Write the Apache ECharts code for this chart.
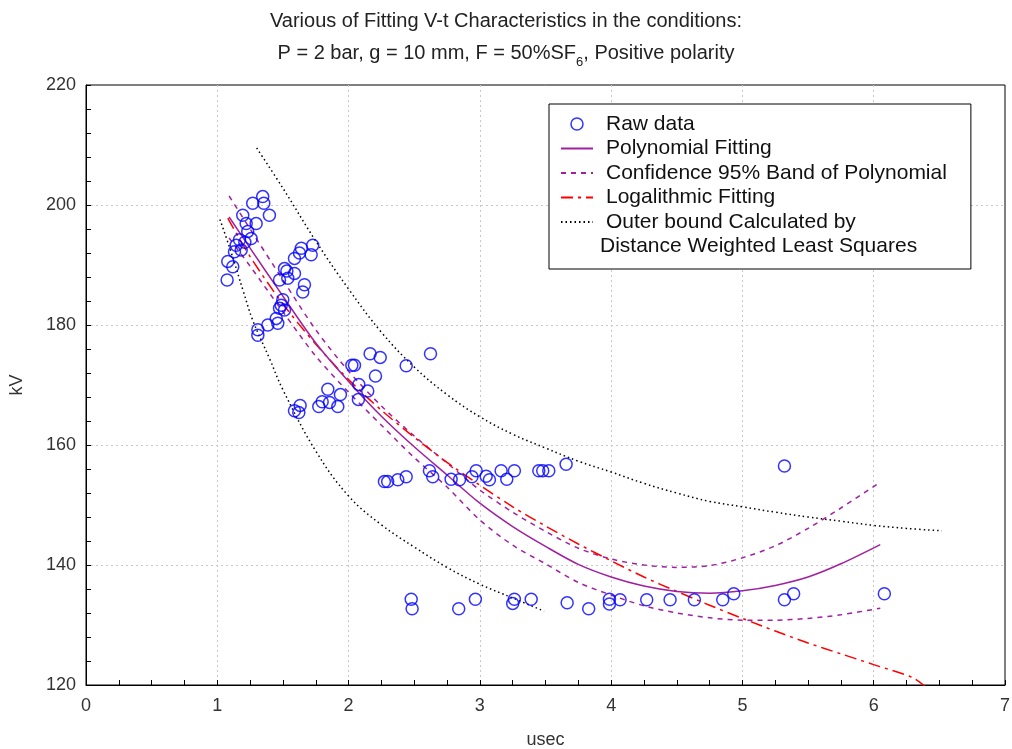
<!DOCTYPE html>
<html>
<head>
<meta charset="utf-8">
<script src="https://cdn.jsdelivr.net/npm/echarts@6/dist/echarts.min.js"></script>
<style>
html,body{margin:0;padding:0;background:#fff;}
#chart{width:1012px;height:749px;}
</style>
</head>
<body>
<div id="chart"></div>
<script>
// ---------- data ----------
var rawData = [
  [1.075,187.5],[1.08,190.6],[1.118,189.7],[1.131,192.2],[1.144,193.3],[1.169,194.2],
  [1.182,192.5],[1.194,198.3],[1.22,196.9],[1.232,195.6],[1.258,194.4],[1.27,200.3],
  [1.296,196.9],[1.21,193.8],[1.346,201.4],[1.354,200.3],[1.397,198.3],[1.309,179.2],
  [1.309,178.3],[1.385,180.0],[1.449,181.1],[1.461,180.3],[1.474,182.8],[1.487,183.3],
  [1.499,184.2],[1.512,182.5],[1.474,187.5],[1.537,187.8],[1.512,189.4],[1.588,188.6],
  [1.53,189.0],[1.588,191.1],[1.626,192.0],[1.64,192.8],[1.715,191.7],[1.727,193.3],
  [1.664,186.7],[1.651,185.5],
  [1.588,165.7],[1.621,165.4],[1.631,166.6],[1.773,166.4],[1.799,167.2],[1.842,169.3],
  [1.855,167.1],[1.918,166.4],[1.938,168.4],[2.025,173.3],[2.045,173.3],[2.075,167.6],
  [2.078,170.1],[2.146,169.0],[2.164,175.2],[2.205,171.5],[2.241,174.6],[2.439,173.2],
  [2.624,175.2],
  [2.273,153.9],[2.298,153.9],[2.375,154.2],[2.439,154.7],[2.616,155.7],[2.641,154.7],
  [2.781,154.3],[2.845,154.2],[2.94,154.7],[2.972,155.7],[3.048,154.8],[3.073,154.2],
  [3.162,155.7],[3.205,154.3],[3.263,155.7],[3.449,155.7],[3.479,155.7],[3.525,155.7],
  [3.657,156.8],
  [2.477,134.3],[2.484,132.7],[2.839,132.7],[2.966,134.3],[3.25,133.6],[3.263,134.3],
  [3.391,134.3],[3.665,133.7],[3.829,132.7],[3.987,134.3],[3.987,133.5],[4.068,134.2],
  [4.271,134.2],[4.449,134.2],[4.634,134.2],[4.85,134.2],[4.934,135.2],[5.32,134.2],
  [5.39,135.2],[6.081,135.2],[5.32,156.5]
];

var fitX      = [1.09,1.25,1.5,1.75,2.0,2.25,2.5,2.75,3.0,3.25,3.5,3.75,4.0,4.25,4.5,4.75,5.0,5.25,5.5,5.75,6.05];
var polyFit   = [198.0,192.8,184.8,177.0,170.6,164.8,159.7,155.0,150.3,146.4,143.1,140.1,138.0,136.5,135.6,135.3,135.7,136.6,138.0,140.2,143.4];
var confUpper = [201.5,196.0,187.5,179.2,172.3,166.5,161.5,157.0,152.5,148.8,145.6,142.8,141.0,140.0,139.6,139.9,141.2,143.2,146.1,149.5,153.8];
var confLower = [194.5,189.8,182.2,174.8,168.8,163.3,157.9,153.0,147.5,143.3,140.2,137.1,135.0,133.2,132.0,131.2,130.8,130.8,131.1,131.7,132.8];

var logX   = [1.08,1.25,1.5,1.75,2.0,2.25,2.5,2.75,3.0,3.25,3.5,3.75,4.0,4.25,4.5,4.75,5.0,5.25,5.5,5.75,6.0,6.3,6.4];
var logFit = [197.8,191.4,183.5,176.8,170.9,165.8,161.3,157.1,153.3,149.7,146.5,143.5,140.7,138.0,135.6,133.3,131.1,129.0,127.0,125.2,123.4,121.2,119.6];

var outerUpX = [1.3,1.5,1.75,2.0,2.25,2.5,2.75,3.0,3.25,3.5,3.75,4.0,4.25,4.5,4.75,5.0,5.25,5.5,5.75,6.0,6.25,6.52];
var outerUp  = [209.5,202.8,194.0,186.0,178.8,173.0,168.4,164.7,161.8,159.5,157.3,155.5,153.6,152.0,150.6,149.7,148.8,148.0,147.3,146.6,146.1,145.7];
var outerLoX = [1.02,1.1,1.2,1.27,1.4,1.5,1.75,2.0,2.25,2.5,2.75,3.0,3.25,3.49];
var outerLo  = [197.6,192.5,185.5,180.8,174.3,169.2,159.0,151.5,146.7,143.0,139.6,136.8,134.5,132.3];

var xTicks = [0,1,2,3,4,5,6,7];
var yTicks = [120,140,160,180,200,220];

var titleLine1 = 'Various of Fitting V-t Characteristics in the conditions:';
var titleLine2 = 'P = 2 bar, g = 10 mm, F = 50%SF{sub|6}, Positive polarity';
var legendNames = ['Raw data','Polynomial Fitting','Confidence 95% Band of Polynomial','Logalithmic Fitting','Outer bound Calculated by'];
var legendExtra = 'Distance Weighted Least Squares';

function zip(xs, ys){ return xs.map(function(x,i){ return [x, ys[i]]; }); }

// ---------- chart ----------
var FONT = '"Liberation Sans", Arial, sans-serif';
var PURPLE = '#a020a0';
var chart = echarts.init(document.getElementById('chart'), null, {renderer:'canvas'});
var lineBase = {type:'line', showSymbol:false, symbol:'none', smooth:0.3, silent:true, clip:true};
var hideSym = {opacity:0};

chart.setOption({
  animation:false,
  backgroundColor:'#fff',
  title:{
    text: titleLine1 + '\n' + titleLine2,
    left:'center', top:0,
    textStyle:{fontFamily:FONT, fontSize:20, fontWeight:'normal', color:'#222', lineHeight:32,
      rich:{sub:{fontFamily:FONT, fontSize:13, color:'#222', lineHeight:20, verticalAlign:'bottom'}}}
  },
  grid:{left:86, right:7, top:85, bottom:64, outerBoundsMode:'none', containLabel:false,
    show:true, borderColor:'#000', borderWidth:1, backgroundColor:'transparent'},
  xAxis:{
    type:'value', min:xTicks[0], max:xTicks[xTicks.length-1], interval:1,
    name:'usec', nameLocation:'middle', nameGap:46,
    nameTextStyle:{fontFamily:FONT, fontSize:18, color:'#333'},
    axisLine:{show:true, onZero:false, lineStyle:{color:'#000', width:1}},
    axisTick:{show:true, inside:true, length:5, lineStyle:{color:'#000'}},
    minorTick:{show:true, splitNumber:4, length:5, lineStyle:{color:'#000'}},
    axisLabel:{fontFamily:FONT, fontSize:18, color:'#333', margin:12},
    splitLine:{show:true, showMinLine:false, showMaxLine:false, lineStyle:{color:'#c8c8c8', type:[2,3], width:1}}
  },
  yAxis:{
    type:'value', min:yTicks[0], max:yTicks[yTicks.length-1], interval:20,
    name:'kV', nameLocation:'middle', nameGap:60,
    nameTextStyle:{fontFamily:FONT, fontSize:18, color:'#333'},
    axisLine:{show:true, onZero:false, lineStyle:{color:'#000', width:1}},
    axisTick:{show:true, inside:true, length:5, lineStyle:{color:'#000'}},
    minorTick:{show:true, splitNumber:5, length:5, lineStyle:{color:'#000'}},
    axisLabel:{fontFamily:FONT, fontSize:18, color:'#333', margin:10},
    splitLine:{show:true, showMinLine:false, showMaxLine:false, lineStyle:{color:'#c8c8c8', type:[2,3], width:1}}
  },
  legend:{
    orient:'vertical', left:549, top:104,
    padding:[9,24,36,11],
    borderColor:'#000', borderWidth:1, backgroundColor:'#fff',
    itemWidth:32, itemHeight:12, itemGap:2.5,
    selectedMode:false,
    textStyle:{fontFamily:FONT, fontSize:21, color:'#111', lineHeight:22, padding:[0,0,0,8]},
    data:[
      {name:legendNames[0], icon:'circle', itemStyle:{color:'transparent', borderColor:'#0000ff', borderWidth:1.5}},
      {name:legendNames[1], itemStyle:hideSym},
      {name:legendNames[2], itemStyle:hideSym},
      {name:legendNames[3], itemStyle:hideSym},
      {name:legendNames[4], itemStyle:hideSym}
    ]
  },
  graphic:[{
    type:'text', left:600, top:236, z:100,
    style:{text:legendExtra, fontFamily:FONT, fontSize:21, fill:'#111'}
  }],
  series:[
    Object.assign({}, lineBase, {name:legendNames[4], data:zip(outerUpX, outerUp), smooth:0.4,
      itemStyle:{color:'#000'}, lineStyle:{color:'#000', width:1.5, type:[1.5,3]}}),
    Object.assign({}, lineBase, {name:legendNames[4], data:zip(outerLoX, outerLo), smooth:0.4,
      itemStyle:{color:'#000'}, lineStyle:{color:'#000', width:1.5, type:[1.5,3]}}),
    Object.assign({}, lineBase, {name:legendNames[2], data:zip(fitX, confUpper),
      itemStyle:{color:PURPLE}, lineStyle:{color:PURPLE, width:1.5, type:[5,5]}}),
    Object.assign({}, lineBase, {name:legendNames[2], data:zip(fitX, confLower),
      itemStyle:{color:PURPLE}, lineStyle:{color:PURPLE, width:1.5, type:[5,5]}}),
    Object.assign({}, lineBase, {name:legendNames[3], data:zip(logX, logFit),
      itemStyle:{color:'#ff0000'}, lineStyle:{color:'#ff0000', width:1.5, type:[12,5,3,5]}}),
    Object.assign({}, lineBase, {name:legendNames[1], data:zip(fitX, polyFit),
      itemStyle:{color:PURPLE}, lineStyle:{color:PURPLE, width:1.5, type:'solid'}}),
    {
      type:'scatter', name:legendNames[0], data:rawData, symbol:'circle', symbolSize:12,
      itemStyle:{color:'transparent', borderColor:'#0000ff', borderWidth:1.5}, silent:true, z:3
    }
  ]
});
</script>
</body>
</html>
